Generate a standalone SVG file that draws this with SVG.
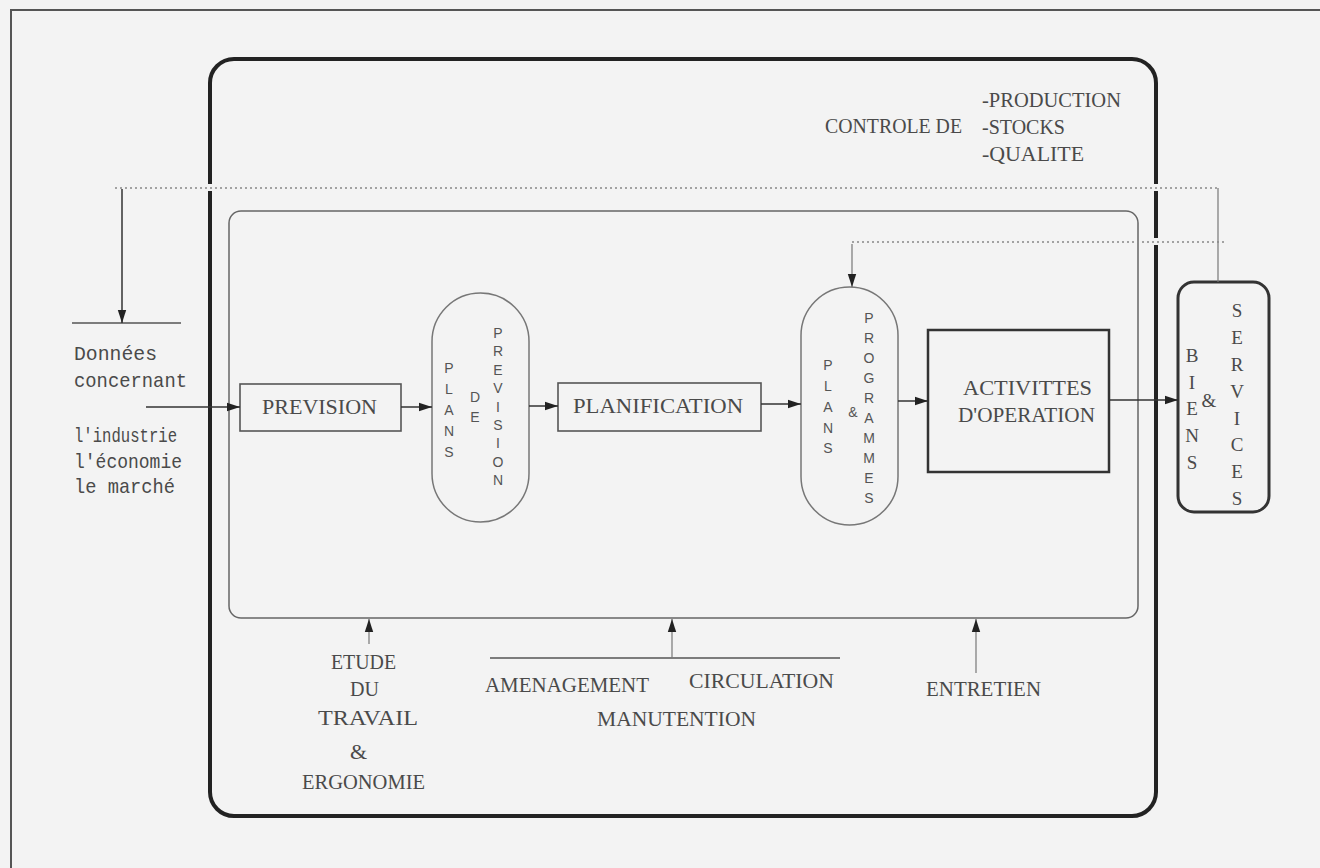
<svg xmlns="http://www.w3.org/2000/svg" width="1320" height="868" viewBox="0 0 1320 868">
<defs>
<style>
.bg{fill:#f3f3f3}
.lbl{font-family:"Liberation Serif",serif;font-size:22px;fill:#4a4a4a}
.mono{font-family:"Liberation Mono",monospace;font-size:21px;fill:#4a4a4a}
.vl{font-family:"Liberation Sans",sans-serif;font-size:14px;fill:#555;text-anchor:middle}
.vs{font-family:"Liberation Serif",serif;font-size:19px;fill:#4a4a4a;text-anchor:middle}
.box{fill:none;stroke:#555;stroke-width:1.6}
.pill{fill:none;stroke:#777;stroke-width:1.5}
.conn{fill:none;stroke:#333;stroke-width:1.5}
.thin{fill:none;stroke:#777;stroke-width:1.2}
.dot{fill:none;stroke:#888;stroke-width:1.6;stroke-dasharray:2 3}
</style>
<marker id="ah" markerWidth="14" markerHeight="10" refX="13" refY="5" orient="auto" markerUnits="userSpaceOnUse">
<path d="M0,0.8 L13,5 L0,9.2 Z" fill="#222"/>
</marker>
</defs>
<rect class="bg" x="0" y="0" width="1320" height="868"/>
<rect x="11" y="10" width="1330" height="880" fill="none" stroke="#555" stroke-width="2"/>

<g id="frame">
<rect x="210" y="59" width="946" height="757" rx="24" fill="none" stroke="#222" stroke-width="4"/>
<rect x="205" y="184" width="10" height="7" class="bg"/>
<rect x="1151" y="184" width="10" height="7" class="bg"/>
<rect x="1151" y="238" width="10" height="7" class="bg"/>
</g>
<g id="inner">
<rect x="229" y="211" width="909" height="407" rx="12" fill="none" stroke="#666" stroke-width="1.5"/>
</g>

<g id="controle">
<text class="lbl" x="825" y="133" textLength="137" lengthAdjust="spacingAndGlyphs">CONTROLE DE</text>
<text class="lbl" x="982" y="107" textLength="139" lengthAdjust="spacingAndGlyphs">-PRODUCTION</text>
<text class="lbl" x="982" y="134" textLength="83" lengthAdjust="spacingAndGlyphs">-STOCKS</text>
<text class="lbl" x="982" y="161" textLength="102" lengthAdjust="spacingAndGlyphs">-QUALITE</text>
</g>

<g id="donnees">
<line x1="72" y1="323" x2="181" y2="323" stroke="#555" stroke-width="1.5"/>
<text class="mono" x="74" y="360" textLength="83" lengthAdjust="spacingAndGlyphs">Données</text>
<text class="mono" x="74" y="387" textLength="113" lengthAdjust="spacingAndGlyphs">concernant</text>
<text class="mono" x="74" y="442" textLength="103" lengthAdjust="spacingAndGlyphs">l'industrie</text>
<text class="mono" x="74" y="468" textLength="108" lengthAdjust="spacingAndGlyphs">l'économie</text>
<text class="mono" x="74" y="493" textLength="101" lengthAdjust="spacingAndGlyphs">le marché</text>
</g>

<g id="prevision">
<rect class="box" x="240" y="384" width="161" height="47"/>
<text class="lbl" x="262" y="414" textLength="115" lengthAdjust="spacingAndGlyphs">PREVISION</text>
</g>

<g id="plans-prevision">
<rect class="pill" x="432" y="293" width="97" height="229" rx="48.5"/>
<g class="vl">
<text x="449" y="373">P</text><text x="449" y="394">L</text><text x="449" y="415">A</text><text x="449" y="436">N</text><text x="449" y="457">S</text>
<text x="475" y="402">D</text><text x="475" y="422">E</text>
<text x="498" y="338">P</text><text x="498" y="356">R</text><text x="498" y="375">E</text><text x="498" y="393">V</text><text x="498" y="412">I</text><text x="498" y="430">S</text><text x="498" y="448">I</text><text x="498" y="467">O</text><text x="498" y="485">N</text>
</g>
</g>

<g id="planification">
<rect class="box" x="558" y="383" width="203" height="48"/>
<text class="lbl" x="573" y="413" textLength="170" lengthAdjust="spacingAndGlyphs">PLANIFICATION</text>
</g>

<g id="plans-programmes">
<rect class="pill" x="801" y="287" width="97" height="238" rx="48.5"/>
<g class="vl">
<text x="828" y="370">P</text><text x="828" y="391">L</text><text x="828" y="412">A</text><text x="828" y="433">N</text><text x="828" y="453">S</text>
<text x="853" y="417">&amp;</text>
<text x="869" y="323">P</text><text x="869" y="343">R</text><text x="869" y="363">O</text><text x="869" y="383">G</text><text x="869" y="403">R</text><text x="869" y="423">A</text><text x="869" y="443">M</text><text x="869" y="463">M</text><text x="869" y="483">E</text><text x="869" y="503">S</text>
</g>
</g>

<g id="activites">
<rect x="928" y="330" width="181" height="142" fill="none" stroke="#333" stroke-width="2.5"/>
<text class="lbl" x="963" y="395" textLength="129" lengthAdjust="spacingAndGlyphs">ACTIVITTES</text>
<text class="lbl" x="958" y="422" textLength="137" lengthAdjust="spacingAndGlyphs">D'OPERATION</text>
</g>

<g id="biens-services">
<rect x="1178" y="282" width="91" height="230" rx="16" fill="none" stroke="#333" stroke-width="3"/>
<g class="vs">
<text x="1192" y="362">B</text><text x="1192" y="389">I</text><text x="1192" y="415">E</text><text x="1192" y="442">N</text><text x="1192" y="469">S</text>
<text x="1209" y="407">&amp;</text>
<text x="1237" y="317">S</text><text x="1237" y="344">E</text><text x="1237" y="371">R</text><text x="1237" y="398">V</text><text x="1237" y="425">I</text><text x="1237" y="451">C</text><text x="1237" y="478">E</text><text x="1237" y="505">S</text>
</g>
</g>

<g id="bottom-labels">
<text class="lbl" x="331" y="669" textLength="65" lengthAdjust="spacingAndGlyphs">ETUDE</text>
<text class="lbl" x="350" y="696" textLength="29" lengthAdjust="spacingAndGlyphs">DU</text>
<text class="lbl" x="318" y="725" textLength="100" lengthAdjust="spacingAndGlyphs">TRAVAIL</text>
<text class="lbl" x="350" y="759" font-size="18">&amp;</text>
<text class="lbl" x="302" y="789" textLength="123" lengthAdjust="spacingAndGlyphs">ERGONOMIE</text>
<line x1="490" y1="658" x2="840" y2="658" stroke="#555" stroke-width="1.5"/>
<text class="lbl" x="485" y="692" textLength="164" lengthAdjust="spacingAndGlyphs">AMENAGEMENT</text>
<text class="lbl" x="689" y="688" textLength="145" lengthAdjust="spacingAndGlyphs">CIRCULATION</text>
<text class="lbl" x="597" y="726" textLength="159" lengthAdjust="spacingAndGlyphs">MANUTENTION</text>
<text class="lbl" x="926" y="696" textLength="115" lengthAdjust="spacingAndGlyphs">ENTRETIEN</text>
</g>

<g id="connectors">
<path class="dot" d="M115,188 H1218"/>
<path class="thin" d="M1218,188 V282"/>
<path class="conn" d="M122,189 V323" marker-end="url(#ah)"/>
<path class="dot" d="M852,242 H1226"/>
<path class="thin" d="M852,244 V287" marker-end="url(#ah)"/>
<path class="conn" d="M146,407 H240" marker-end="url(#ah)"/>
<path class="conn" d="M401,407 H432" marker-end="url(#ah)"/>
<path class="conn" d="M529,406 H558" marker-end="url(#ah)"/>
<path class="conn" d="M761,404 H801" marker-end="url(#ah)"/>
<path class="conn" d="M898,401 H928" marker-end="url(#ah)"/>
<path class="conn" d="M1109,400 H1178" marker-end="url(#ah)"/>
<path class="thin" d="M369,644 V619" marker-end="url(#ah)"/>
<path class="thin" d="M672,658 V619" marker-end="url(#ah)"/>
<path class="thin" d="M976,673 V619" marker-end="url(#ah)"/>
</g>
</svg>
